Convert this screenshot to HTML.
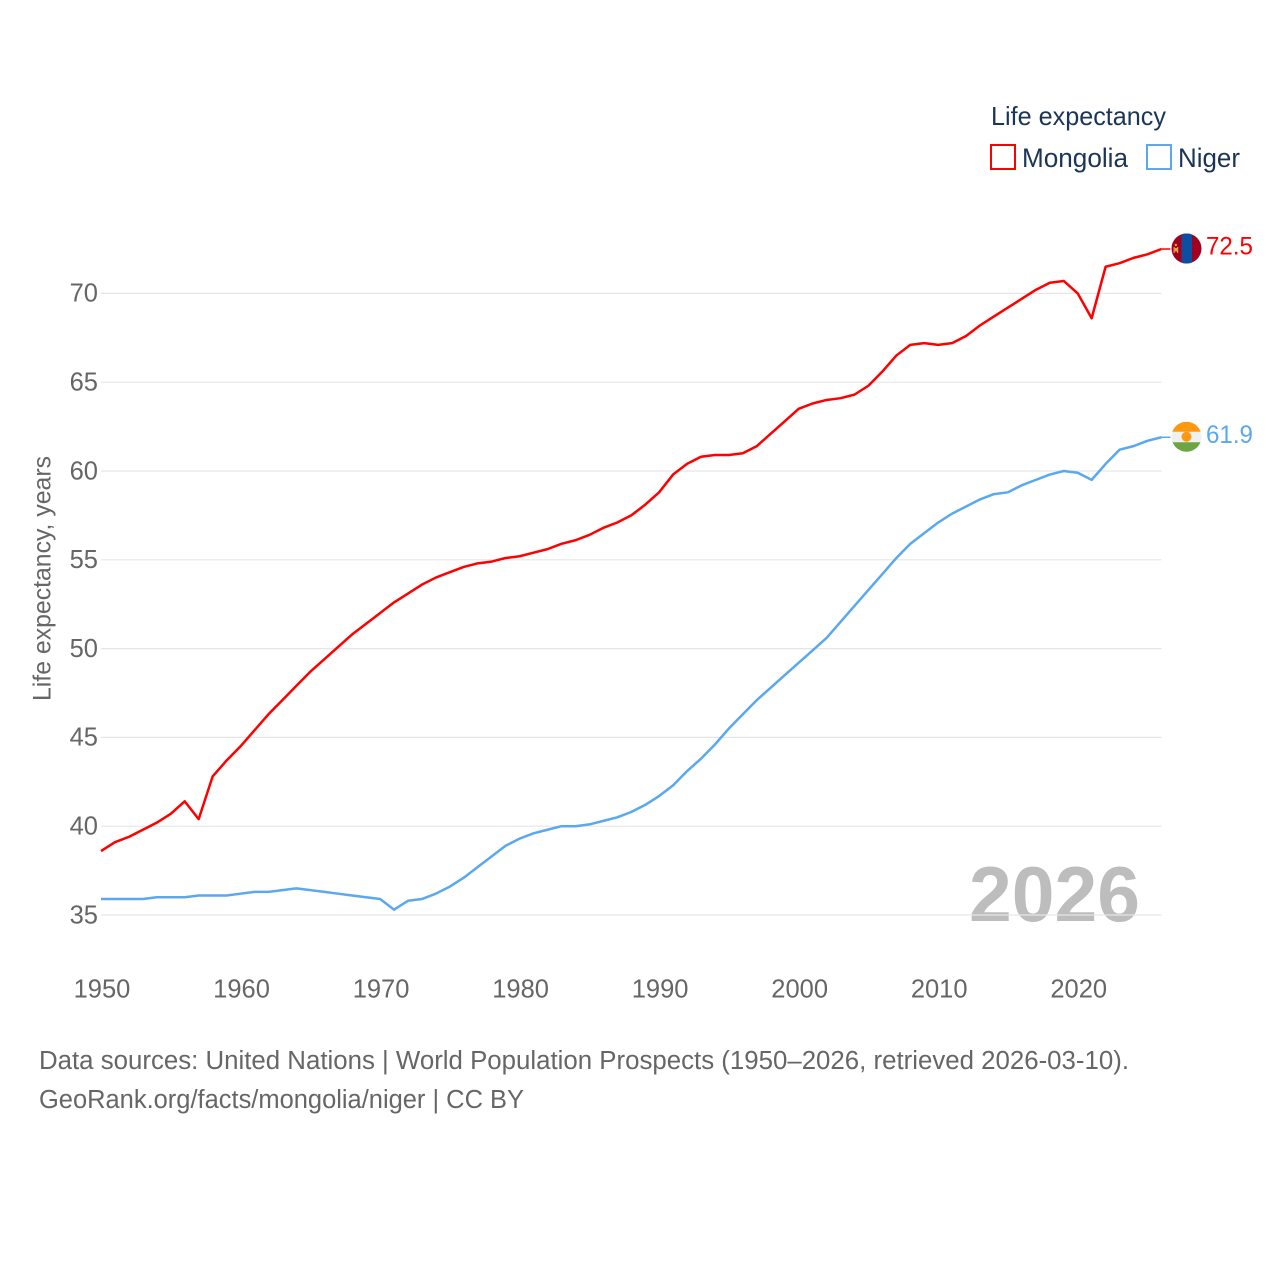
<!DOCTYPE html>
<html lang="en">
<head>
<meta charset="utf-8">
<title>Life expectancy: Mongolia and Niger</title>
<style>
  html, body { margin: 0; padding: 0; background: #fff; }
  svg { display: block; font-family: "Liberation Sans", Arial, sans-serif; }
</style>
</head>
<body>
<svg id="chart" xmlns="http://www.w3.org/2000/svg" width="1280" height="1280" viewBox="0 0 1280 1280">
  <rect x="0" y="0" width="1280" height="1280" fill="#ffffff"/>
  <g id="yticks"></g>
  <g id="xticks"></g>
  <text transform="translate(50.5,701) rotate(-90)" font-size="25" fill="#666666" textLength="245" lengthAdjust="spacingAndGlyphs">Life expectancy, years</text>

  <text x="969" y="921" font-size="78" font-weight="700" fill="#bdbdbd" textLength="171" lengthAdjust="spacingAndGlyphs">2026</text>
  <g id="grid"></g>

  <path id="line-mongolia" fill="none" stroke="#ff0000" stroke-width="2.5" stroke-linejoin="round"/>
  <path id="line-niger" fill="none" stroke="#5ba7f0" stroke-width="2.5" stroke-linejoin="round"/>
  <path id="connector-mongolia" fill="none" stroke="#ff0000" stroke-width="1.5"/>
  <path id="connector-niger" fill="none" stroke="#5ba7f0" stroke-width="1.5"/>

  <defs>
    <clipPath id="flag-clip"><circle cx="0" cy="0" r="15"/></clipPath>
  </defs>

  <g id="flag-mongolia">
    <g clip-path="url(#flag-clip)">
      <rect x="-15" y="-15" width="30" height="30" fill="#a1001e"/>
      <rect x="-5" y="-15" width="10.5" height="30" fill="#0b4ea2"/>
      <rect x="-13" y="-1.5" width="1.2" height="6" fill="#e8a33d"/>
      <rect x="-9.5" y="-1.5" width="1.2" height="6" fill="#e8a33d"/>
      <rect x="-11.8" y="-0.5" width="2.3" height="3.5" fill="#e8a33d"/>
      <circle cx="-10.7" cy="-3.5" r="1.2" fill="#e8a33d"/>
    </g>
  </g>
  <g id="flag-niger">
    <g clip-path="url(#flag-clip)">
      <rect x="-15" y="-15" width="30" height="30" fill="#f0f0f0"/>
      <rect x="-15" y="-15" width="30" height="10" fill="#ff9811"/>
      <rect x="-15" y="5.5" width="30" height="10" fill="#6da544"/>
      <circle cx="0" cy="0" r="5" fill="#ff9811"/>
    </g>
  </g>

  <text id="value-mongolia" x="1206" font-size="25" fill="#ff0000" textLength="47" lengthAdjust="spacingAndGlyphs"></text>
  <text id="value-niger" x="1206" font-size="25" fill="#5ba7f0" textLength="47" lengthAdjust="spacingAndGlyphs"></text>

  <g>
    <text x="991" y="125" font-size="26" fill="#1b3557" textLength="175" lengthAdjust="spacingAndGlyphs">Life expectancy</text>
    <g>
      <rect x="991" y="145" width="24" height="24" fill="#ffffff" stroke="#ff0000" stroke-width="2"/>
      <text x="1022" y="167" font-size="26.5" fill="#1b3557" textLength="106" lengthAdjust="spacingAndGlyphs">Mongolia</text>
    </g>
    <g>
      <rect x="1147" y="145" width="24" height="24" fill="#ffffff" stroke="#5ba7f0" stroke-width="2"/>
      <text x="1178" y="167" font-size="26.5" fill="#1b3557" textLength="62" lengthAdjust="spacingAndGlyphs">Niger</text>
    </g>
  </g>

  <text x="39" y="1069" font-size="25.5" fill="#666666" textLength="1090" lengthAdjust="spacingAndGlyphs">Data sources: United Nations | World Population Prospects (1950–2026, retrieved 2026-03-10).</text>
  <text x="39" y="1108" font-size="25.5" fill="#666666" textLength="485" lengthAdjust="spacingAndGlyphs">GeoRank.org/facts/mongolia/niger | CC BY</text>
</svg>
<script>
const years = [1950,1951,1952,1953,1954,1955,1956,1957,1958,1959,1960,1961,1962,1963,1964,1965,1966,1967,1968,1969,1970,1971,1972,1973,1974,1975,1976,1977,1978,1979,1980,1981,1982,1983,1984,1985,1986,1987,1988,1989,1990,1991,1992,1993,1994,1995,1996,1997,1998,1999,2000,2001,2002,2003,2004,2005,2006,2007,2008,2009,2010,2011,2012,2013,2014,2015,2016,2017,2018,2019,2020,2021,2022,2023,2024,2025,2026];
const mongolia = [38.6,39.1,39.4,39.8,40.2,40.7,41.4,40.4,42.8,43.7,44.5,45.4,46.3,47.1,47.9,48.7,49.4,50.1,50.8,51.4,52.0,52.6,53.1,53.6,54.0,54.3,54.6,54.8,54.9,55.1,55.2,55.4,55.6,55.9,56.1,56.4,56.8,57.1,57.5,58.1,58.8,59.8,60.4,60.8,60.9,60.9,61.0,61.4,62.1,62.8,63.5,63.8,64.0,64.1,64.3,64.8,65.6,66.5,67.1,67.2,67.1,67.2,67.6,68.2,68.7,69.2,69.7,70.2,70.6,70.7,70.0,68.6,71.5,71.7,72.0,72.2,72.5];
const niger = [35.9,35.9,35.9,35.9,36.0,36.0,36.0,36.1,36.1,36.1,36.2,36.3,36.3,36.4,36.5,36.4,36.3,36.2,36.1,36.0,35.9,35.3,35.8,35.9,36.2,36.6,37.1,37.7,38.3,38.9,39.3,39.6,39.8,40.0,40.0,40.1,40.3,40.5,40.8,41.2,41.7,42.3,43.1,43.8,44.6,45.5,46.3,47.1,47.8,48.5,49.2,49.9,50.6,51.5,52.4,53.3,54.2,55.1,55.9,56.5,57.1,57.6,58.0,58.4,58.7,58.8,59.2,59.5,59.8,60.0,59.9,59.5,60.4,61.2,61.4,61.7,61.9];
const yTickValues = [35,40,45,50,55,60,65,70];
const xTickValues = [1950,1960,1970,1980,1990,2000,2010,2020];

const SVG_NS = 'http://www.w3.org/2000/svg';
function xScale(year) { return 101 + (year - 1950) * 13.953; }
function yScale(value) { return 915 - (value - 35) * 17.76; }
function linePath(values) {
  return values.map(function (v, i) {
    return (i ? 'L' : 'M') + xScale(years[i]).toFixed(2) + ' ' + yScale(v).toFixed(2);
  }).join(' ');
}

const gridGroup = document.getElementById('grid');
const yGroup = document.getElementById('yticks');
const xGroup = document.getElementById('xticks');

yTickValues.forEach(function (v) {
  const line = document.createElementNS(SVG_NS, 'line');
  
  
  line.setAttribute('x1', xScale(1950));
  line.setAttribute('x2', xScale(2026));
  line.setAttribute('y1', yScale(v));
  line.setAttribute('y2', yScale(v));
  line.setAttribute('stroke', '#e6e6e6');
  line.setAttribute('stroke-width', '1.2');
  gridGroup.appendChild(line);

  const label = document.createElementNS(SVG_NS, 'text');
  
  
  label.setAttribute('x', 98);
  label.setAttribute('y', yScale(v) + 8.3);
  label.setAttribute('text-anchor', 'end');
  label.setAttribute('font-size', '25.5');
  label.setAttribute('fill', '#666666');
  label.textContent = v;
  yGroup.appendChild(label);
});

xTickValues.forEach(function (year) {
  const label = document.createElementNS(SVG_NS, 'text');
  
  
  label.setAttribute('x', xScale(year) + 1);
  label.setAttribute('y', 997.5);
  label.setAttribute('text-anchor', 'middle');
  label.setAttribute('font-size', '25.5');
  label.setAttribute('fill', '#666666');
  label.textContent = year;
  xGroup.appendChild(label);
});

function placeEnd(values, name) {
  const last = values[values.length - 1];
  const lastX = xScale(years[years.length - 1]);
  const lastY = yScale(last);
  document.getElementById('line-' + name).setAttribute('d', linePath(values));
  document.getElementById('connector-' + name).setAttribute('d', 'M' + lastX + ' ' + lastY + ' L' + (lastX + 9) + ' ' + lastY);
  document.getElementById('flag-' + name).setAttribute('transform', 'translate(1186.5,' + (lastY - 0.5) + ')');
  const valueLabel = document.getElementById('value-' + name);
  valueLabel.setAttribute('y', lastY + 5.5);
  valueLabel.textContent = last.toFixed(1);
}
placeEnd(mongolia, 'mongolia');
placeEnd(niger, 'niger');
</script>
</body>
</html>
